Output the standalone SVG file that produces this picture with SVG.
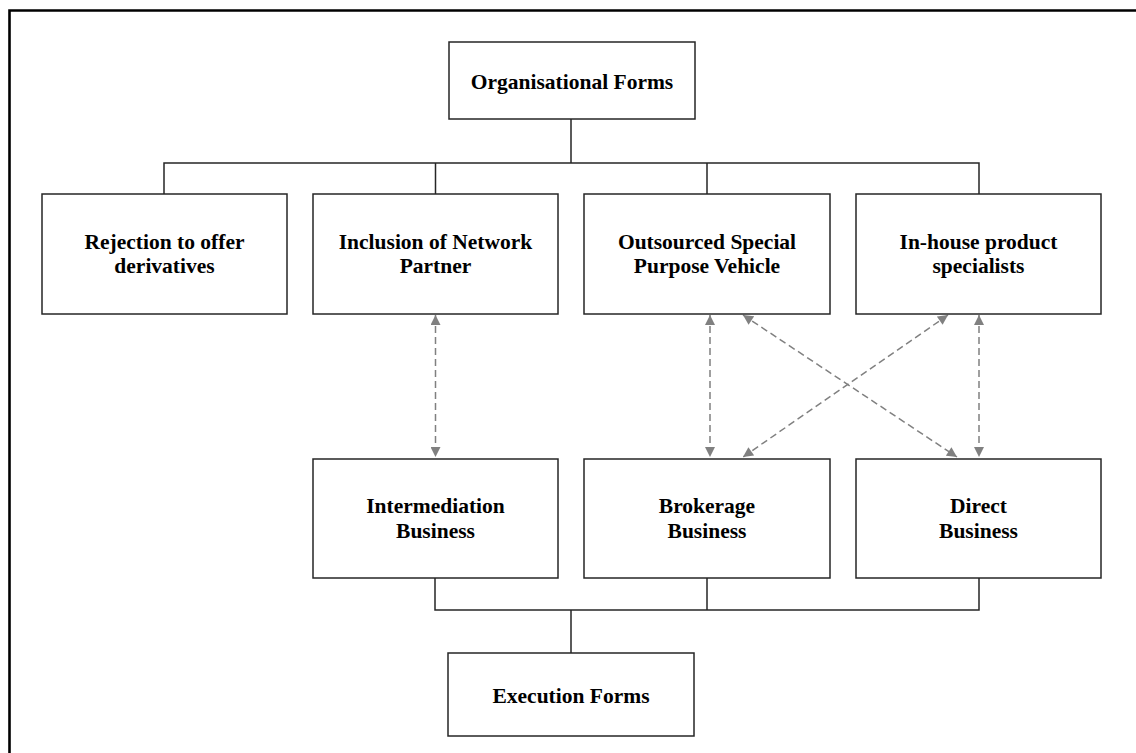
<svg xmlns="http://www.w3.org/2000/svg" width="1136" height="753" viewBox="0 0 1136 753">
<style>
.box{fill:#fff;stroke:#262626;stroke-width:1.5}
.t{font-family:"Liberation Serif","Times New Roman",serif;font-weight:bold;font-size:21.5px;fill:#000;text-anchor:middle}
.c{fill:none;stroke:#262626;stroke-width:1.5}
.d{fill:none;stroke:#808080;stroke-width:1.5;stroke-dasharray:7,4}
</style>
<defs>
<marker id="ah" viewBox="0 0 10 10" refX="10" refY="5" markerWidth="11" markerHeight="10" markerUnits="userSpaceOnUse" orient="auto-start-reverse">
<path d="M0,0 L10,5 L0,10 z" fill="#808080"/>
</marker>
</defs>
<rect width="1136" height="753" fill="#fff"/>
<path d="M9.5,753 V10.5 H1136" fill="none" stroke="#000" stroke-width="2.6"/>
<g id="connectors">
<path class="c" d="M571,119 V163 M164,194 V163 H979 V194 M435.5,163 V194 M707,163 V194"/>
<path class="c" d="M435,578 V610 H979 V578 M707,578 V610 M571,610 V653"/>
<line class="d" x1="435.5" y1="315" x2="435.5" y2="457" marker-start="url(#ah)" marker-end="url(#ah)"/>
<line class="d" x1="710" y1="315" x2="710" y2="457" marker-start="url(#ah)" marker-end="url(#ah)"/>
<line class="d" x1="979" y1="315" x2="979" y2="457" marker-start="url(#ah)" marker-end="url(#ah)"/>
<line class="d" x1="743" y1="315" x2="957" y2="457" marker-start="url(#ah)" marker-end="url(#ah)"/>
<line class="d" x1="948" y1="315" x2="743" y2="457" marker-start="url(#ah)" marker-end="url(#ah)"/>
</g>
<g id="org"><rect class="box" x="449" y="42" width="246" height="77"/><text class="t" x="572" y="89">Organisational Forms</text></g>
<g id="rejection"><rect class="box" x="42" y="194" width="245" height="120"/><text class="t" x="164.5" y="249">Rejection to offer</text><text class="t" x="164.5" y="273">derivatives</text></g>
<g id="network"><rect class="box" x="313" y="194" width="245" height="120"/><text class="t" x="435.5" y="249">Inclusion of Network</text><text class="t" x="435.5" y="273">Partner</text></g>
<g id="spv"><rect class="box" x="584" y="194" width="246" height="120"/><text class="t" x="707" y="249">Outsourced Special</text><text class="t" x="707" y="273">Purpose Vehicle</text></g>
<g id="inhouse"><rect class="box" x="856" y="194" width="245" height="120"/><text class="t" x="978.5" y="249">In-house product</text><text class="t" x="978.5" y="273">specialists</text></g>
<g id="intermediation"><rect class="box" x="313" y="459" width="245" height="119"/><text class="t" x="435.5" y="513">Intermediation</text><text class="t" x="435.5" y="538">Business</text></g>
<g id="brokerage"><rect class="box" x="584" y="459" width="246" height="119"/><text class="t" x="707" y="513">Brokerage</text><text class="t" x="707" y="538">Business</text></g>
<g id="direct"><rect class="box" x="856" y="459" width="245" height="119"/><text class="t" x="978.5" y="513">Direct</text><text class="t" x="978.5" y="538">Business</text></g>
<g id="execution"><rect class="box" x="448" y="653" width="246" height="83"/><text class="t" x="571" y="703">Execution Forms</text></g>
</svg>
